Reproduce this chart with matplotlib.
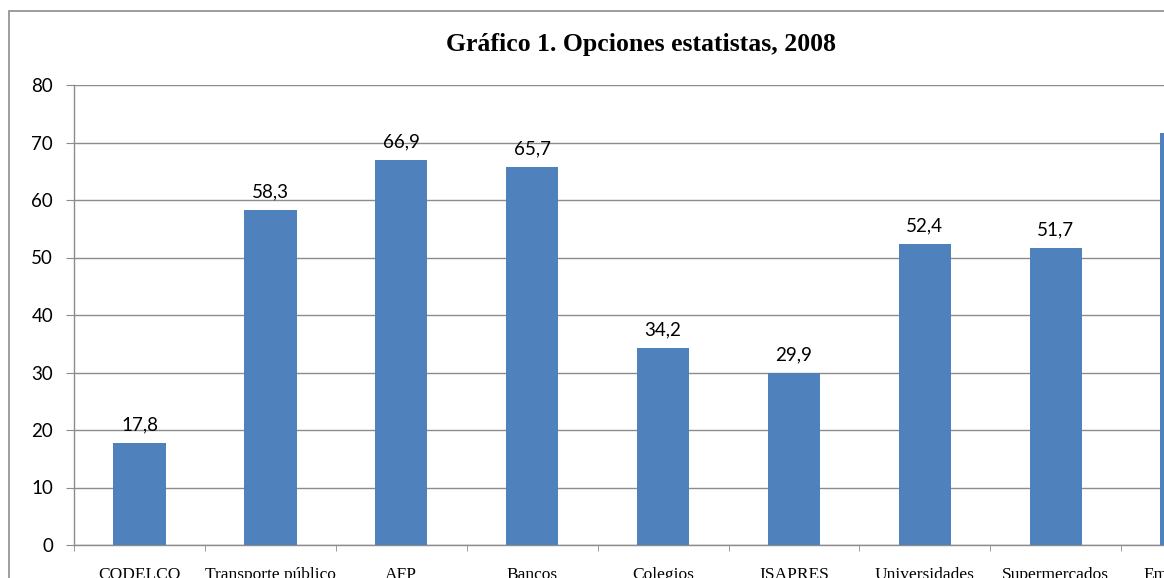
import numpy as np
import matplotlib.pyplot as plt
from matplotlib.patches import Rectangle

categorias = ["CODELCO", "Transporte público", "AFP", "Bancos", "Colegios",
              "ISAPRES", "Universidades", "Supermercados", "Empresarios"]
valores = [17.8, 58.3, 66.9, 65.7, 34.2, 29.9, 52.4, 51.7, 71.7]
etiquetas_y = [0, 10, 20, 30, 40, 50, 60, 70, 80]

W, H = 1164, 578
fig = plt.figure(figsize=(W / 100, H / 100), dpi=100)

# axes runs past the right edge, like the cropped original
ax_left, ax_bottom = 74 / W, (H - 545) / H
ax_w = 9 * 130.9 / W
ax_h = 460 / H
ax = fig.add_axes([ax_left, ax_bottom, ax_w, ax_h])

gris = "#8c8c8c"
x = np.arange(len(categorias))
ax.bar(x, valores, width=0.4, color="#4f81bd", zorder=3)

for xi, v in zip(x, valores):
    ax.annotate(f"{v:.1f}".replace(".", ","), (xi, v), xytext=(0, 7),
                textcoords="offset points", ha="center", va="bottom",
                fontsize=13.5, family="Lato", color="black")

ax.set_xlim(-0.5, len(categorias) - 0.5)
ax.set_ylim(0, 80)
ax.set_yticks(etiquetas_y)
ax.set_yticklabels([str(t) for t in etiquetas_y], family="Lato", fontsize=13.5)
ax.yaxis.grid(True, color=gris, lw=1, zorder=0)

ax.set_xticks(x)
ax.set_xticklabels(categorias, family="Liberation Serif", fontsize=12.5)
ax.set_xticks(np.arange(-0.5, len(categorias)), minor=True)
ax.tick_params(axis="x", which="major", length=0, pad=16)
ax.tick_params(axis="x", which="minor", length=4, color=gris, direction="out")
ax.tick_params(axis="y", length=6, color=gris, pad=9)

for s in ["top", "right"]:
    ax.spines[s].set_visible(False)
for s in ["left", "bottom"]:
    ax.spines[s].set_color(gris)
    ax.spines[s].set_linewidth(1)

fig.text(641 / W, (H - 45) / H, "Gráfico 1. Opciones estatistas, 2008",
         ha="center", va="center", family="Liberation Serif",
         fontweight="bold", fontsize=18.5)

# chart border
fig.patches.append(Rectangle((9 / W, -0.1), 1.2, (H - 11) / H + 0.1,
                             transform=fig.transFigure, fill=False,
                             edgecolor=gris, lw=1.2))

fig.savefig("out.png", dpi=100)
